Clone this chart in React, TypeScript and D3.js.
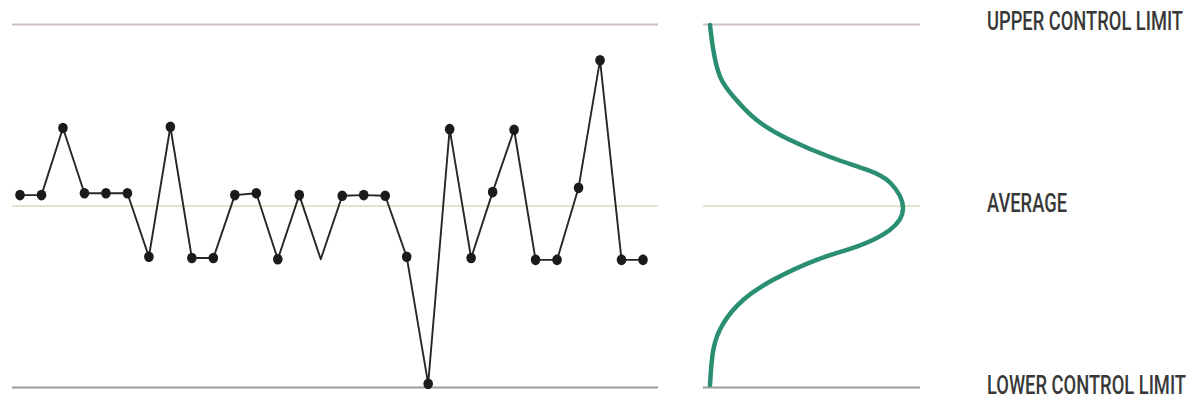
import React from "react";
import * as d3 from "d3";

// control chart values, one per sample
const samples = d3.range(1, 31);
const values = [
  51.8, 51.8, 62.9, 52.1, 52.1, 52.1, 41.6, 63.1, 41.4, 41.4,
  51.8, 52.1, 41.2, 51.8, 41.2, 51.7, 51.8, 51.7, 41.6, 20.6,
  62.7, 41.4, 52.3, 62.6, 41.1, 41.1, 53.0, 74.1, 41.1, 41.1,
];
// samples drawn without a dot
const unmarked = [15];

const limitNames = ["UPPER CONTROL LIMIT", "AVERAGE", "LOWER CONTROL LIMIT"];
const limitValues = [80, 50, 20];
const limitColors = ["#cdbfbf", "#dfe6cf", "#9c9c9c"];

// distribution curve: level and relative spread
const curveLevels = [
  79.9, 75.8, 71.4, 68.1, 64.2, 60.9, 58.1, 56.0, 53.8,
  49.7, 46.0, 43.3, 41.1, 37.8, 34.5, 30.6, 26.2, 20.4,
];
const curveSpread = [
  0, 0.017, 0.052, 0.121, 0.242, 0.415, 0.622, 0.812, 0.935,
  1.0, 0.93, 0.76, 0.553, 0.328, 0.173, 0.069, 0.017, 0,
];

const W = 1200;
const H = 400;

// condensed look: Roboto squeezed horizontally to the width in the picture
const LabelText = ({ x, y, text, width }) => {
  const sx = 0.74;
  return (
    <text
      transform={`translate(${x},${y}) scale(${sx},1)`}
      fontFamily="Roboto, 'Noto Sans', sans-serif"
      fontSize="25"
      fontWeight="500"
      fill="#383838"
      textLength={width / sx}
      lengthAdjust="spacingAndGlyphs">{text}</text>
  );
};

export default function App() {
  const y = d3.scaleLinear().domain([20, 80]).range([387.5, 24.5]);
  const x = d3.scalePoint<number>().domain(samples).range([20, 643]);
  const cx = d3.scaleLinear().domain([0, 1]).range([710, 903]);

  const line = d3.line<number>()
    .x((d, i) => x(samples[i])!)
    .y(d => y(d));

  const bell = d3.line<number>()
    .x((d, i) => cx(curveSpread[i]))
    .y(d => y(d))
    .curve(d3.curveNatural);

  const labelWidths = [196, 80, 199];
  const labelOffsets = [5, 5.5, 6];

  return (
    <svg width={W} height={H} style={{ position: "absolute", left: 0, top: 0, background: "#fff" }}>
      {limitValues.map((v, i) =>
        <g key={i}>
          <line x1={12} x2={658} y1={y(v)} y2={y(v)} stroke={limitColors[i]} strokeWidth={2} />
          <line x1={703} x2={920} y1={y(v)} y2={y(v)} stroke={limitColors[i]} strokeWidth={2} />
          <LabelText x={987} y={y(v) + labelOffsets[i]} text={limitNames[i]} width={labelWidths[i]} />
        </g>
      )}
      <path d={line(values)!} fill="none" stroke="#262626" strokeWidth={1.9} strokeLinejoin="round" />
      {values.map((v, i) =>
        unmarked.includes(samples[i]) ? null :
          <ellipse key={i} cx={x(samples[i])} cy={y(v)} rx={4.8} ry={5.3} fill="#1b1b1b" />
      )}
      <path d={bell(curveLevels)!} fill="none" stroke="#2a8f72" strokeWidth={4.5} strokeLinecap="round" />
    </svg>
  );
}
